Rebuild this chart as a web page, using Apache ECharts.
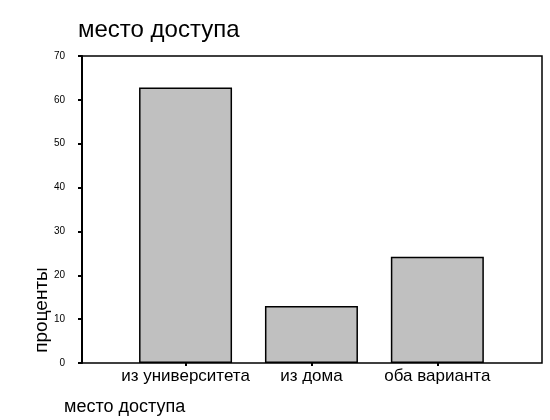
<!DOCTYPE html>
<html>
<head>
<meta charset="utf-8">
<script src="https://cdn.jsdelivr.net/npm/echarts@6/dist/echarts.min.js"></script>
<style>
  html, body { margin: 0; padding: 0; background: #fff; }
  #chart { width: 550px; height: 420px; }
</style>
</head>
<body>
<div id="chart"></div>
<script>
'use strict';

// данные
const categories = ['из университета', 'из дома', 'оба варианта'];
const percents = [62.8, 13.0, 24.2];
const yTicks = [0, 10, 20, 30, 40, 50, 60, 70];

window.addEventListener('load', () => {
    const box = document.getElementById('chart');
    let chart = echarts.init(box, null, { renderer: 'canvas' });

    const font = 'Liberation Sans, Arial, sans-serif';

    let option = {
        animation: false,
        backgroundColor: '#fff',
        title: [
            {
                text: 'место доступа',
                left: 78, top: 18, padding: 0,
                textStyle: { fontFamily: font, fontSize: 24, fontWeight: 'normal', color: '#000' }
            },
            {
                text: 'место доступа',
                left: 64, top: 398, padding: 0,
                textStyle: { fontFamily: font, fontSize: 18, fontWeight: 'normal', color: '#000' }
            }
        ],
        graphic: [
            {
                type: 'text',
                x: 42, y: 310,
                rotation: Math.PI / 2,
                style: {
                    text: 'проценты',
                    font: '19px ' + font,
                    fill: '#000',
                    align: 'center',
                    verticalAlign: 'middle'
                }
            }
        ],
        grid: [
            // категории (бары)
            { left: 122.6, top: 56, width: 377.7, height: 307 },
            // рамка
            { left: 82, top: 56, width: 460, height: 307, show: true, borderColor: '#000', borderWidth: 1.5, backgroundColor: 'transparent' }
        ],
        xAxis: [
            {
                gridIndex: 0,
                type: 'category',
                data: categories,
                axisLine: { show: false },
                axisTick: { show: true, alignWithLabel: true, length: 3, lineStyle: { color: '#000', width: 2 } },
                axisLabel: { fontFamily: font, fontSize: 17, color: '#000', margin: 5, interval: 0 }
            },
            { gridIndex: 1, type: 'value', show: false, min: 0, max: 1 }
        ],
        yAxis: [
            { gridIndex: 0, type: 'value', min: 0, max: 70, show: false },
            {
                gridIndex: 1,
                type: 'value',
                min: yTicks[0],
                max: yTicks[yTicks.length - 1],
                interval: 10,
                axisLine: { show: true, lineStyle: { color: '#000', width: 2 } },
                axisTick: { show: true, length: 4, lineStyle: { color: '#000', width: 2 } },
                axisLabel: { fontFamily: font, fontSize: 10, color: '#000', margin: 17 },
                splitLine: { show: false }
            }
        ],
        series: [
            {
                type: 'bar',
                xAxisIndex: 0,
                yAxisIndex: 0,
                data: percents,
                barWidth: 93,
                itemStyle: { color: '#c0c0c0', borderColor: '#000', borderWidth: 1.5 },
                label: { show: false }
            }
        ]
    };

    chart.setOption(option);
});
</script>
</body>
</html>
